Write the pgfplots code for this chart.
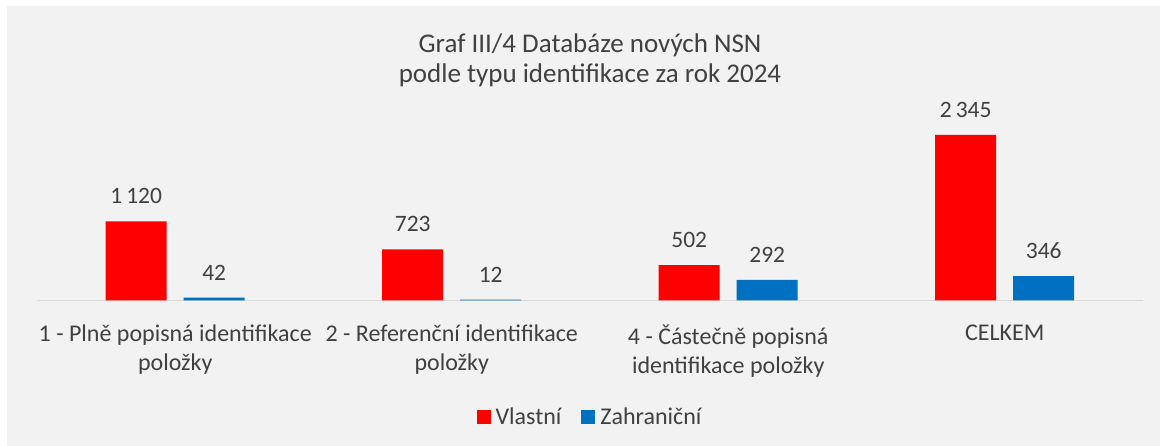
\documentclass[border=0pt]{standalone}
\usepackage{fontspec}
\setmainfont{Carlito}
\usepackage{pgfplots}
\pgfplotsset{compat=1.18}
\definecolor{bg}{HTML}{F2F2F2}
\definecolor{txt}{HTML}{404040}
\definecolor{cred}{HTML}{FF0000}
\definecolor{cblue}{HTML}{0070C0}
\definecolor{axl}{HTML}{D9D9D9}
\begin{document}
\begin{tikzpicture}[x=1pt,y=1pt]
\useasboundingbox (0,0) rectangle (1160,446);
\fill[bg] (7,0) rectangle (1160,440);
\begin{axis}[
  at={(37pt,145.5pt)}, anchor=south west,
  scale only axis, width=1106pt, height=200pt,
  ymin=0, ymax=2833, xmin=-0.5, xmax=3.5,
  ybar=17pt, bar width=61pt,
  axis x line*=bottom, axis y line=none,
  x axis line style={-, draw=axl, line width=1.5pt},
  ytick=\empty, xtick={0,1,2,3},
  major tick length=0pt,
  xticklabels={{1 - Plně popisná identifikace\\položky},{2 - Referenční identifikace\\položky},{4 - Částečně popisná\\identifikace položky},{CELKEM}},
  xticklabel style={align=center, font=\fontsize{24}{29}\selectfont, text=txt, anchor=north, yshift=-21pt},
  title={Graf III/4 Databáze nových NSN\\podle typu identifikace za rok 2024},
  title style={align=center, font=\fontsize{27}{30.5}\selectfont, text=txt, at={(0.5,1.17)}, anchor=center},
  nodes near coords,
  nodes near coords style={font=\fontsize{23.5}{28}\selectfont, text=txt, anchor=center, yshift=25pt},
  legend columns=2,
  legend style={draw=none, fill=none, at={(0.5,-0.582)}, anchor=center, font=\fontsize{24}{28}\selectfont, text=txt, /tikz/every even column/.append style={column sep=18pt}, /tikz/every odd column/.append style={column sep=3pt}},
  legend image code/.code={\fill[#1] (0pt,-7pt) rectangle (14pt,7pt);},
  /pgf/number format/1000 sep={\,},
  /pgf/number format/assume math mode=true,
  clip=false,
]
\addplot[fill=cred, draw=none] coordinates {(0,1120) (1,723) (2,502) (3,2345)};
\addplot[fill=cblue, draw=none] coordinates {(0,42) (1,12) (2,292) (3,346)};
\legend{Vlastní, Zahraniční}
\end{axis}
\end{tikzpicture}
\end{document}
